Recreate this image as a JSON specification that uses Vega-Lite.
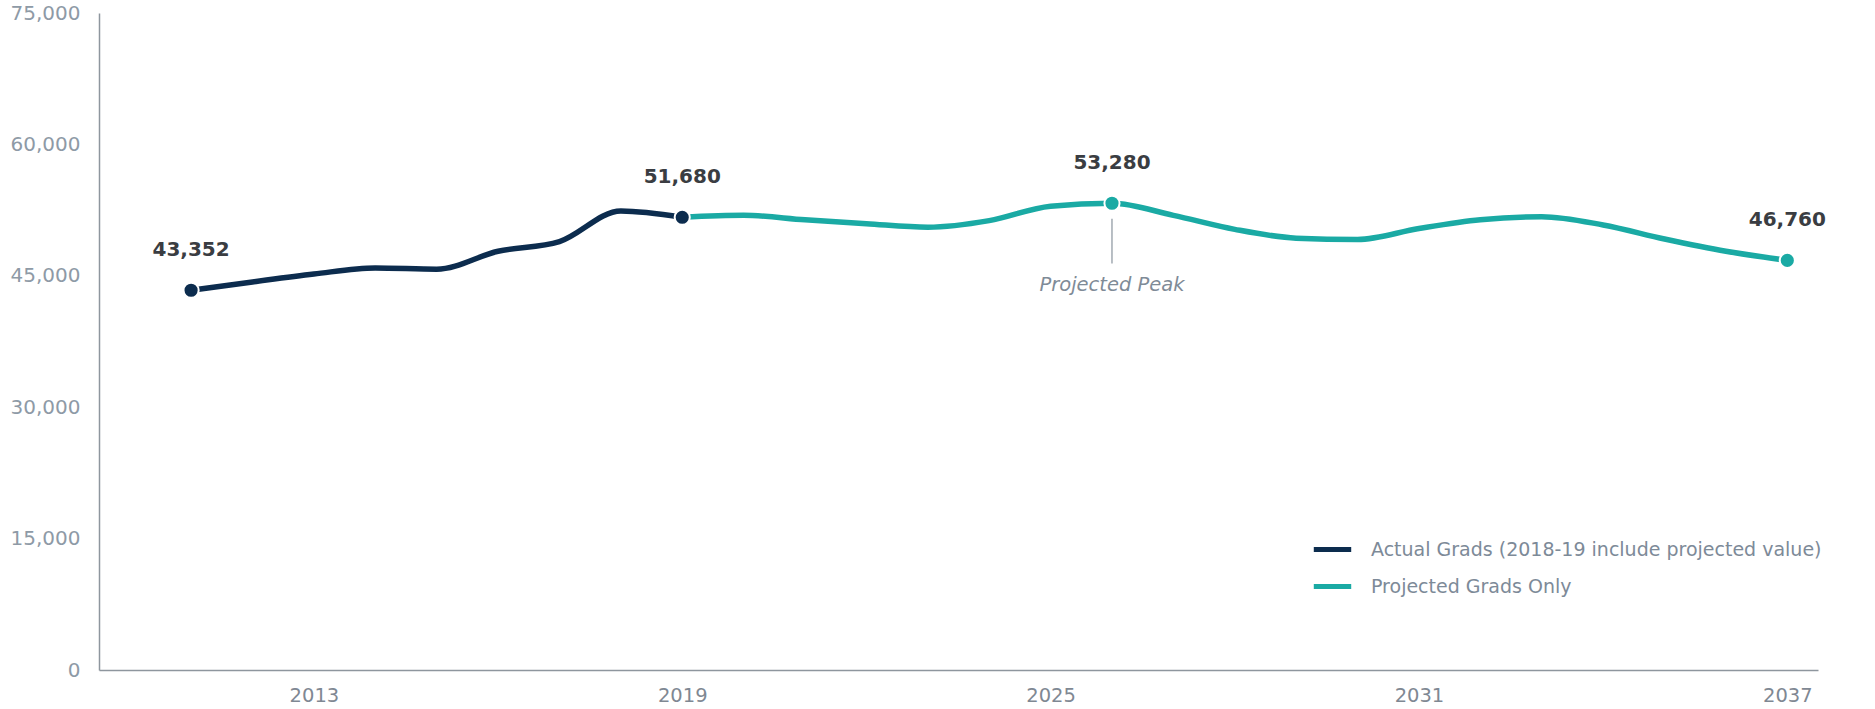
{
  "$schema": "https://vega.github.io/schema/vega-lite/v6.json",
  "width": 1719,
  "height": 657,
  "autosize": {"type": "none"},
  "padding": {"left": 99, "top": 13, "right": 57, "bottom": 39},
  "background": "white",
  "config": {"view": {"stroke": null}},
  "datasets": {
    "grads": [
      {"year": 2011, "value": 43352, "series": "Actual Grads (2018-19 include projected value)"},
      {"year": 2012, "value": 44300, "series": "Actual Grads (2018-19 include projected value)"},
      {"year": 2013, "value": 45200, "series": "Actual Grads (2018-19 include projected value)"},
      {"year": 2014, "value": 45900, "series": "Actual Grads (2018-19 include projected value)"},
      {"year": 2015, "value": 45750, "series": "Actual Grads (2018-19 include projected value)"},
      {"year": 2016, "value": 47800, "series": "Actual Grads (2018-19 include projected value)"},
      {"year": 2017, "value": 48900, "series": "Actual Grads (2018-19 include projected value)"},
      {"year": 2018, "value": 52400, "series": "Actual Grads (2018-19 include projected value)"},
      {"year": 2019, "value": 51680, "series": "Actual Grads (2018-19 include projected value)"},
      {"year": 2019, "value": 51680, "series": "Projected Grads Only"},
      {"year": 2020, "value": 51900, "series": "Projected Grads Only"},
      {"year": 2021, "value": 51400, "series": "Projected Grads Only"},
      {"year": 2022, "value": 50950, "series": "Projected Grads Only"},
      {"year": 2023, "value": 50550, "series": "Projected Grads Only"},
      {"year": 2024, "value": 51300, "series": "Projected Grads Only"},
      {"year": 2025, "value": 52950, "series": "Projected Grads Only"},
      {"year": 2026, "value": 53280, "series": "Projected Grads Only"},
      {"year": 2027, "value": 51900, "series": "Projected Grads Only"},
      {"year": 2028, "value": 50300, "series": "Projected Grads Only"},
      {"year": 2029, "value": 49300, "series": "Projected Grads Only"},
      {"year": 2030, "value": 49150, "series": "Projected Grads Only"},
      {"year": 2031, "value": 50400, "series": "Projected Grads Only"},
      {"year": 2032, "value": 51400, "series": "Projected Grads Only"},
      {"year": 2033, "value": 51750, "series": "Projected Grads Only"},
      {"year": 2034, "value": 50800, "series": "Projected Grads Only"},
      {"year": 2035, "value": 49200, "series": "Projected Grads Only"},
      {"year": 2036, "value": 47800, "series": "Projected Grads Only"},
      {"year": 2037, "value": 46760, "series": "Projected Grads Only"}
    ],
    "highlights": [
      {"year": 2011, "value": 43352, "series": "Actual Grads (2018-19 include projected value)", "label": "43,352"},
      {"year": 2019, "value": 51680, "series": "Actual Grads (2018-19 include projected value)", "label": "51,680"},
      {"year": 2026, "value": 53280, "series": "Projected Grads Only", "label": "53,280"},
      {"year": 2037, "value": 46760, "series": "Projected Grads Only", "label": "46,760"}
    ],
    "annotation": [
      {"year": 2026, "top": 51500, "bottom": 46400, "textY": 44000, "text": "Projected Peak"}
    ]
  },
  "layer": [
    {
      "data": {"name": "annotation"},
      "mark": {"type": "rule", "color": "#8a949e", "strokeWidth": 1.2},
      "encoding": {
        "x": {"field": "year", "type": "quantitative", "scale": {"domain": [2009.5, 2037.5], "nice": false, "zero": false}},
        "y": {"field": "top", "type": "quantitative"},
        "y2": {"field": "bottom"}
      }
    },
    {
      "data": {"name": "annotation"},
      "mark": {"type": "text", "font": "DejaVu Sans", "fontSize": 19.5, "fontStyle": "italic", "color": "#7f8b97", "align": "center", "baseline": "middle"},
      "encoding": {
        "x": {"field": "year", "type": "quantitative"},
        "y": {"field": "textY", "type": "quantitative"},
        "text": {"field": "text"}
      }
    },
    {
      "data": {"name": "grads"},
      "mark": {"type": "line", "strokeWidth": 5.5, "interpolate": "monotone", "strokeCap": "round"},
      "encoding": {
        "x": {
          "field": "year", "type": "quantitative",
          "scale": {"domain": [2009.5, 2037.5], "nice": false, "zero": false},
          "axis": {
            "title": null, "values": [2013, 2019, 2025, 2031, 2037], "format": "d",
            "domainColor": "#8e969e", "domainWidth": 1.5, "ticks": false, "grid": false,
            "labelFont": "DejaVu Sans", "labelFontSize": 19.5, "labelColor": "#7f8893",
            "labelPadding": 16
          }
        },
        "y": {
          "field": "value", "type": "quantitative",
          "scale": {"domain": [0, 75000], "nice": false},
          "axis": {
            "title": null, "values": [0, 15000, 30000, 45000, 60000, 75000], "format": ",d",
            "domainColor": "#8e969e", "domainWidth": 1.5, "ticks": false, "grid": false,
            "labelFont": "DejaVu Sans", "labelFontSize": 20, "labelColor": "#8e9aa6",
            "labelPadding": 19
          }
        },
        "color": {
          "field": "series", "type": "nominal",
          "scale": {"domain": ["Actual Grads (2018-19 include projected value)", "Projected Grads Only"], "range": ["#0c2c4e", "#1aaaa4"]},
          "legend": {
            "title": null, "orient": "none", "legendX": 1212, "legendY": 515,
            "symbolType": "stroke", "symbolStrokeWidth": 5, "symbolSize": 1400,
            "labelFont": "DejaVu Sans", "labelFontSize": 19, "labelColor": "#7d8a98",
            "labelOffset": 17, "rowPadding": 5, "labelLimit": 700
          }
        }
      }
    },
    {
      "data": {"name": "highlights"},
      "mark": {"type": "point", "filled": true, "size": 230, "stroke": "white", "strokeWidth": 2, "strokeOpacity": 1, "opacity": 1},
      "encoding": {
        "x": {"field": "year", "type": "quantitative"},
        "y": {"field": "value", "type": "quantitative"},
        "fill": {"field": "series", "type": "nominal", "scale": {"domain": ["Actual Grads (2018-19 include projected value)", "Projected Grads Only"], "range": ["#0c2c4e", "#1aaaa4"]}, "legend": null}
      }
    },
    {
      "data": {"name": "highlights"},
      "mark": {"type": "text", "font": "DejaVu Sans", "fontSize": 20, "fontWeight": "bold", "color": "#3a3d42", "align": "center", "baseline": "middle", "dy": -40},
      "encoding": {
        "x": {"field": "year", "type": "quantitative"},
        "y": {"field": "value", "type": "quantitative"},
        "text": {"field": "label"}
      }
    }
  ]
}
